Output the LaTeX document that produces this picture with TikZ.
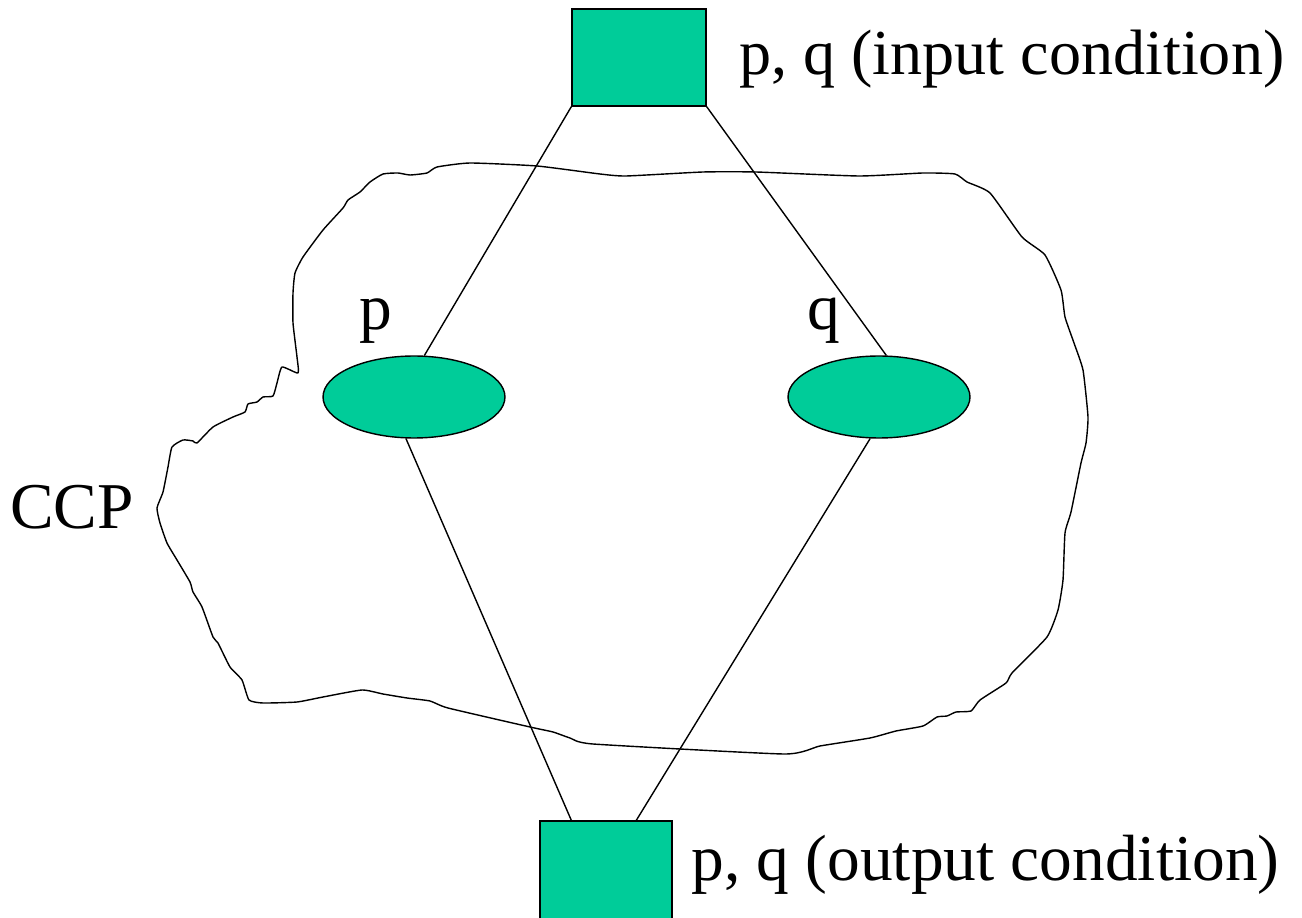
\documentclass[tikz,border=0pt]{standalone}
\usepackage{fontspec}
\setmainfont{Liberation Serif}
\usetikzlibrary{calc,shapes.geometric}
\definecolor{tealfill}{RGB}{0,204,153}
\begin{document}
\begin{tikzpicture}[x=0.02cm,y=-0.02cm,
  every node/.style={font=\fontsize{37.2}{40}\selectfont},
  boxnode/.style={draw,fill=tealfill,line width=0.8pt,inner sep=0pt,minimum width=2.68cm,minimum height=1.94cm},
  ovalnode/.style={draw,fill=tealfill,line width=0.8pt,ellipse,inner sep=0pt,minimum width=3.64cm,minimum height=1.64cm},
  lbl/.style={anchor=base west,inner sep=0pt},
  wire/.style={line width=0.8pt}]
\useasboundingbox (0,0) rectangle (1302,918);
% freehand outline of the CCP region
\draw[line width=0.8pt,line join=round] plot[smooth cycle,tension=0.3] coordinates {
 (157,508) (163,492) (168,467) (172,447) (183,440) (193,441) (197,443) (213,427) (233,417)
 (245,412) (248,404) (257,402) (263,397) (273,396) (277,383) (282,367) (298,373) (297,357)
 (293,323) (293,293) (295,273) (303,257) (323,230) (343,208) (348,200) (360,192) (370,182)
 (383,174) (398,173) (410,175) (427,173) (437,167) (470,163) (537,166) (600,174) (626,176)
 (703,172) (756,172) (859,176) (923,173) (955,174) (967,182) (990,193) (1022,237) (1045,255)
 (1061,290) (1065,317) (1074,343) (1083,370) (1088,417) (1086,443) (1081,463) (1071,512)
 (1065,533) (1063,580) (1058,610) (1047,637) (1012,673) (1006,683) (980,700) (971,711)
 (956,712) (947,716) (937,717) (923,726) (896,731) (870,738) (820,746) (784,754) (593,744)
 (570,738) (553,732) (530,727) (448,708) (430,701) (407,698) (383,694) (362,690) (323,697)
 (297,702) (263,703) (249,700) (242,680) (230,667) (218,643) (213,637) (202,607) (193,592)
 (190,582) (177,560) (167,543) (160,523)};
% nodes
\node[boxnode] (in) at (639,57.5) {};
\node[boxnode,minimum width=2.64cm,minimum height=2.1cm] (out) at (606,873.5) {};
\node[ovalnode] (p) at (414,397) {};
\node[ovalnode] (q) at (879,397) {};
% connectors
\draw[wire] (in.south west) -- (p.76);
\draw[wire] (in.south east) -- (q.80);
\draw[wire] (p.259) -- ($(out.north west)+(32,0)$);
\draw[wire] (q.258) -- ($(out.north west)+(97,0)$);
% labels
\node[lbl,font=\fontsize{36.5}{40}\selectfont] (tin) at (739,75) {p, q (input condition)};
\node[lbl] (tout) at (691,880) {p, q (output condition)};
\node[lbl] (tccp) at (10,529) {CCP};
\node[lbl] (tp) at (359,330) {p};
\node[lbl] (tq) at (807,330) {q};
\end{tikzpicture}
\end{document}
